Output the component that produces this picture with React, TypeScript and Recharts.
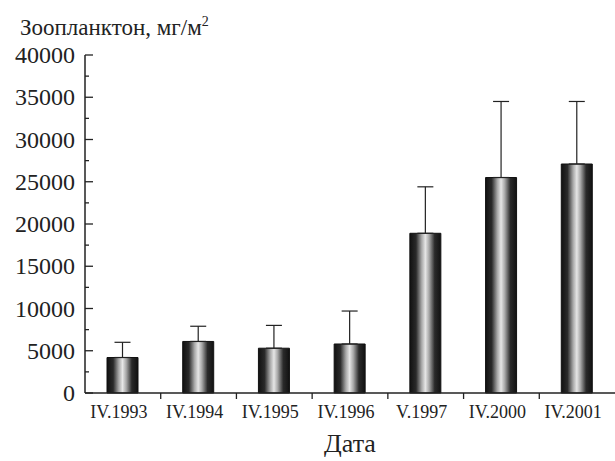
import React from "react";
import { BarChart, Bar, XAxis, YAxis, ErrorBar } from "recharts";

// Zooplankton biomass by survey date, mg/m2
const dates = ["IV.1993", "IV.1994", "IV.1995", "IV.1996", "V.1997", "IV.2000", "IV.2001"];
const biomass = [4200, 6100, 5300, 5800, 18900, 25500, 27100];
const upperBound = [6000, 7900, 8000, 9700, 24400, 34500, 34500];
const yTicks = [0, 2500, 5000, 7500, 10000, 12500, 15000, 17500, 20000, 22500, 25000, 27500, 30000, 32500, 35000, 37500, 40000];

const data = dates.map((d, i) => ({
  date: d,
  value: biomass[i],
  err: [0, upperBound[i] - biomass[i]],
}));

const W = 615;
const H = 461;
const LEFT = 85;
const ink = "#222";
const serif = "Liberation Serif, DejaVu Serif, serif";
const band = (W - LEFT) / dates.length;

const YTick = ({ x, y, payload }: any) => {
  const ax = x + 10;
  const major = payload.value % 5000 === 0;
  return (
    <g>
      <line x1={ax} x2={ax + (major ? 8 : 4)} y1={y} y2={y} stroke={ink} strokeWidth={1.3} />
      {major && (
        <text x={x} y={y} dy={8} textAnchor="end" style={{ fontFamily: serif }} fontSize={24} fill={ink}>
          {payload.value}
        </text>
      )}
    </g>
  );
};

const XTick = ({ x, y, payload, index }: any) => (
  <g>
    {index > 0 && (
      <line x1={x - band / 2} x2={x - band / 2} y1={y} y2={y + 6} stroke={ink} strokeWidth={1.3} />
    )}
    <text x={x - 4} y={y + 25} textAnchor="middle" style={{ fontFamily: serif }} fontSize={18} fill={ink}>
      {payload.value}
    </text>
  </g>
);

const AxisTitle = ({ viewBox }: any) => (
  <text
    x={viewBox.x + viewBox.width / 2}
    y={452}
    textAnchor="middle"
    style={{ fontFamily: serif }}
    fontSize={26}
    fill={ink}
  >
    Дата
  </text>
);

export default function App() {
  return (
    <div style={{ position: "absolute", left: 0, top: 0, width: W, height: H, background: "#fff" }}>
      <BarChart width={W} height={H} data={data} margin={{ top: 55, right: 0, left: 0, bottom: 0 }}>
        <defs>
          <linearGradient id="barFill" x1="0" y1="0" x2="1" y2="0">
            <stop offset="0" stopColor="#111" />
            <stop offset="0.2" stopColor="#2a2a2a" />
            <stop offset="0.38" stopColor="#a8a8a8" />
            <stop offset="0.5" stopColor="#e6e6e6" />
            <stop offset="0.62" stopColor="#a8a8a8" />
            <stop offset="0.8" stopColor="#2a2a2a" />
            <stop offset="1" stopColor="#111" />
          </linearGradient>
        </defs>
        <XAxis
          dataKey="date"
          height={68}
          tickSize={0}
          tickMargin={0}
          interval={0}
          tick={<XTick />}
          axisLine={{ stroke: ink, strokeWidth: 1.5 }}
          label={<AxisTitle />}
        />
        <YAxis
          width={LEFT}
          domain={[0, 40000]}
          ticks={yTicks}
          interval={0}
          tickSize={0}
          tickMargin={10}
          tickLine={false}
          tick={<YTick />}
          axisLine={{ stroke: ink, strokeWidth: 1.5 }}
        />
        <Bar dataKey="value" barSize={31} fill="url(#barFill)" stroke="#111" strokeWidth={1} isAnimationActive={false}>
          <ErrorBar dataKey="err" direction="y" width={8} stroke={ink} strokeWidth={1.2} />
        </Bar>
      </BarChart>
      <svg width={W} height={50} style={{ position: "absolute", left: 0, top: 0, pointerEvents: "none" }}>
        <text x={20} y={35} style={{ fontFamily: serif }} fontSize={23} fill={ink}>
          Зоопланктон, мг/м
          <tspan dy={-9} fontSize={14}>2</tspan>
        </text>
      </svg>
    </div>
  );
}
